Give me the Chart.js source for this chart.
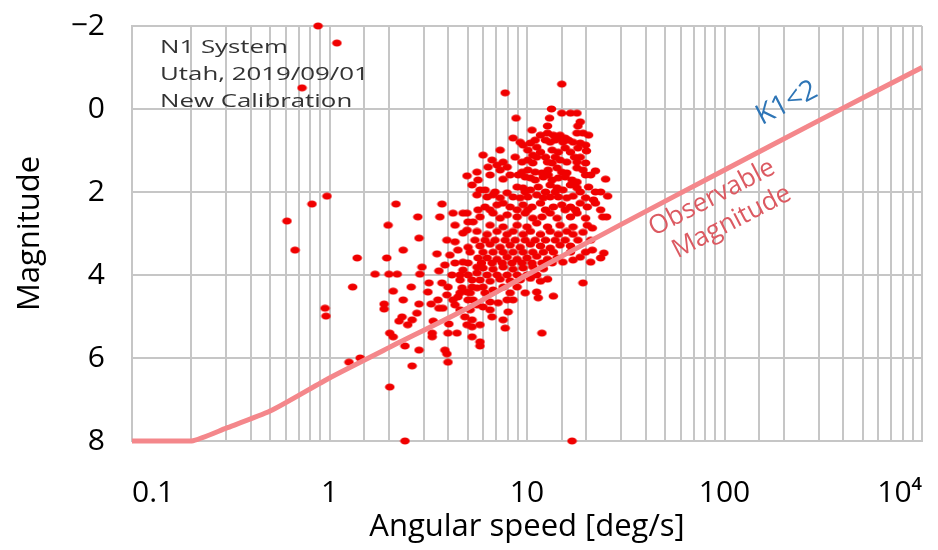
<!DOCTYPE html>
<html><head><meta charset="utf-8">
<script src="https://cdn.jsdelivr.net/npm/chart.js@4.4.1/dist/chart.umd.min.js"></script>
<style>html,body{margin:0;padding:0;background:#fff;} #wrap{width:938px;height:550px;position:relative;}</style>
</head><body><div id="wrap"><canvas id="c"></canvas></div>
<script>
// ---- axis ticks ----
const xTickValues = [0.1, 1, 10, 100, 1000];
const xTickLabels = ['0.1', '1', '10', '100', '10\u2074'];
const yTickValues = [-2, 0, 2, 4, 6, 8];

// ---- observable magnitude limit (K1<2) ----
const limitSpeed = [0.1, 0.2, 0.3, 0.5, 1, 2, 5, 10, 30, 100, 300, 1000];
const limitMag   = [8, 8, 7.69, 7.28, 6.48, 5.75, 4.8, 4.0, 2.78, 1.47, 0.28, -1.0];

// ---- observations [angular speed deg/s, magnitude] ----
const sparsePoints = [
 [0.875,-2.0],[1.09,-1.59],[0.726,-0.51],[0.815,2.29],[0.609,2.70],[0.669,3.40],[0.971,2.10],[0.949,4.80],[0.960,4.99],
 [1.255,6.10],[1.43,6.0],[2.41,8.0],[16.9,8.0],[1.31,4.29],[1.38,3.59],[1.95,3.59],[1.70,3.98],[2.0,3.98],[2.20,3.98],
 [2.17,2.29],[3.71,2.29],[1.98,2.80],[2.80,2.60],[3.62,2.60],[2.84,3.11],[2.36,3.40],[3.50,3.49],[2.94,3.81],[3.58,3.90],
 [2.87,3.98],[2.59,4.29],[2.10,4.39],[3.19,4.19],[3.15,4.41],[3.71,4.19],[3.98,4.29],[2.36,4.60],[2.84,4.70],[3.27,4.70],
 [3.54,4.60],[3.75,4.80],[1.89,4.70],[1.89,4.82],[2.77,4.92],[2.33,5.01],[2.25,5.11],[2.62,5.08],[2.49,5.20],[3.35,5.11],
 [4.02,5.18],[3.58,4.80],[4.22,4.60],[4.32,4.72],[2.02,5.40],[2.10,5.49],[2.41,5.71],[2.84,5.81],[3.31,5.40],[3.31,5.49],
 [3.84,5.81],[3.93,5.90],[3.98,6.10],[2.62,6.19],[2.02,6.70],[3.98,5.40],[4.42,5.40],[4.97,5.20],[5.27,5.25],[4.85,5.01],
 [5.27,5.08],[4.22,2.51],[4.74,2.51],[4.97,2.51],[4.32,2.80],[5.03,2.72],[5.33,2.72],[4.74,2.99],[4.97,2.92],[4.32,3.20],
 [4.47,3.40],[5.03,3.33],[4.32,3.71],[4.74,3.69],[4.74,3.88],[5.03,4.0],[5.27,4.12],[5.58,3.95],[4.69,4.31],[4.97,4.41],
 [5.27,4.29],[5.58,4.31],[4.47,4.53],[5.03,4.60],[5.33,4.60],[5.58,4.72],[5.65,3.59],[5.58,3.81],[4.97,1.61],[5.58,1.52],
 [5.65,1.71],[5.27,1.83],[5.78,1.95],[5.58,2.07],[3.93,3.16],[4.07,3.52],[3.84,3.76],[4.17,4.0],[3.93,4.48],[4.58,4.12]
];
const upperCore = [
 [15.0,-0.60],[7.75,-0.39],[13.3,0.0],[15.0,0.10],[16.6,0.10],[17.9,0.10],[8.80,0.22],[13.0,0.22],[12.7,0.41],[18.6,0.31],
 [18.1,0.41],[10.6,0.51],[11.7,0.63],[12.7,0.58],[13.6,0.63],[14.7,0.63],[15.6,0.70],[17.9,0.58],[19.2,0.58],[20.5,0.63],
 [8.50,0.70],[9.23,0.80],[9.55,0.87],[10.4,0.82],[11.2,0.92],[13.1,0.80],[14.4,0.70],[15.2,0.80],[17.1,0.80],[18.6,0.82],
 [19.8,0.87],[7.31,0.99],[5.99,1.11],[10.1,0.99],[10.7,1.11],[11.7,1.04],[13.4,0.99],[14.4,1.04],[15.6,0.94],[16.6,1.04],
 [18.1,0.94],[20.0,1.01],[6.65,1.23],[7.05,1.35],[7.57,1.28],[9.44,1.28],[10.1,1.23],[10.7,1.30],[12.7,1.28],[13.4,1.30],
 [14.7,1.23],[15.9,1.28],[17.9,1.28],[19.8,1.30],[6.35,1.40],[7.93,1.40],[7.31,1.47],[9.44,1.52],[10.1,1.47],[11.0,1.52],
 [11.9,1.54],[12.8,1.47],[14.2,1.42],[15.0,1.52],[15.9,1.54],[17.9,1.42],[19.2,1.47],[22.2,1.49],[7.57,1.69],[9.79,1.64],
 [10.4,1.66],[11.0,1.71],[12.1,1.64],[13.4,1.71],[14.4,1.66],[15.6,1.64],[16.9,1.71],[17.9,1.76],[25.0,1.69],[6.13,1.95],
 [8.91,1.88],[9.55,1.90],[10.4,1.95],[11.4,1.88],[13.1,1.83],[14.2,1.90],[15.2,1.95],[16.6,1.83],[17.9,1.90],[20.5,1.88],
 [23.6,2.0],[25.6,2.10],[6.28,2.12],[6.73,2.07],[7.31,2.14],[7.93,2.02],[8.50,2.12],[9.23,2.14],[10.1,2.12],[11.2,2.07],
 [12.1,2.14],[13.1,2.12],[14.4,2.12],[15.9,2.14],[17.1,2.10],[19.8,2.14],[21.7,2.19],[6.13,2.36],[7.05,2.31],[7.57,2.27],
 [8.21,2.36],[9.55,2.31],[10.6,2.36],[11.7,2.27],[13.6,2.36],[15.0,2.31],[16.6,2.36],[18.6,2.27],[20.2,2.36],[22.2,2.27],
 [24.2,2.60],[25.3,2.60],[5.78,2.60],[6.73,2.51],[7.31,2.63],[7.93,2.55],[8.91,2.60],[9.79,2.51],[10.7,2.63],[11.9,2.60],
 [13.1,2.51],[14.2,2.63],[16.6,2.60],[17.9,2.51],[19.8,2.63],[6.50,2.80],[7.57,2.84],[8.91,2.80],[10.0,2.84],[11.2,2.75],
 [12.7,2.84],[14.7,2.80],[17.1,2.84],[20.2,2.80],[21.4,2.87],
 [11.0,0.75],[12.4,0.75],[13.9,0.75],[16.2,0.75],[8.71,1.16],[11.2,1.16],[12.4,1.16],[13.9,1.16],[17.4,1.16],[18.6,1.16],
 [6.50,1.59],[8.21,1.59],[9.02,1.59],[12.8,1.59],[19.8,1.59],[21.0,1.59],[6.89,2.0],[9.79,2.0],[12.4,2.0],[13.9,2.0],
 [18.6,2.0],[22.2,2.0],[5.65,2.43],[6.50,2.43],[8.91,2.43],[10.1,2.43],[12.4,2.43],[15.6,2.43],[17.6,2.43],[23.6,2.43]
];
const lowerCore = [
 [5.58,2.95],[6.28,3.02],[7.05,2.95],[7.93,3.02],[8.50,2.95],[9.55,3.02],[10.4,2.95],[11.7,3.02],[13.1,2.95],[14.4,3.02],
 [15.9,2.95],[17.1,3.02],[19.2,2.97],[5.78,3.30],[6.50,3.26],[7.31,3.33],[8.21,3.28],[9.23,3.33],[10.4,3.26],[11.7,3.30],
 [13.1,3.35],[14.7,3.28],[16.6,3.30],[21.4,3.40],[24.5,3.47],[23.6,3.59],[21.0,3.69],[18.6,3.57],[17.1,3.64],[15.2,3.69],
 [6.28,3.59],[7.05,3.62],[7.93,3.57],[8.91,3.62],[10.0,3.59],[11.2,3.55],[12.7,3.62],[14.2,3.59],[5.99,3.83],[6.73,3.86],
 [7.57,3.81],[8.50,3.86],[9.55,3.83],[10.7,3.80],[12.1,3.85],[5.78,4.12],[6.50,4.15],[7.31,4.10],[8.21,4.14],[9.23,4.12],
 [10.4,4.08],[11.7,4.15],[12.7,4.10],[19.2,4.19],[8.91,4.29],[11.2,4.41],[11.4,4.55],[13.6,4.51],[5.99,4.29],[6.73,4.36],
 [7.57,4.29],[6.50,4.65],[7.14,4.67],[7.93,4.60],[8.50,4.60],[8.02,4.89],[6.65,5.01],[5.99,4.77],[7.57,5.08],[7.75,5.28],
 [5.78,5.20],[11.9,5.40],[5.78,5.61],[5.78,5.71],[5.27,5.49],
 [5.45,3.16],[6.13,3.16],[6.89,3.16],[7.75,3.16],[8.71,3.16],[9.79,3.16],[11.0,3.16],[12.4,3.16],[13.9,3.16],[15.6,3.16],
 [18.1,3.16],[21.0,3.16],[5.15,3.45],[5.99,3.45],[6.73,3.45],[7.57,3.45],[8.50,3.45],[9.55,3.45],[10.7,3.45],[12.1,3.45],
 [13.6,3.45],[16.6,3.45],[19.8,3.45],[5.03,3.71],[5.88,3.71],[6.65,3.71],[7.49,3.71],[8.40,3.71],[9.44,3.71],[10.6,3.71],
 [11.9,3.71],[13.4,3.71],[4.58,4.0],[6.28,4.0],[7.05,4.0],[7.93,4.0],[8.91,4.0],[10.0,4.0],[11.2,4.0],[4.58,4.43],
 [5.15,4.43],[6.13,4.43],[8.21,4.43],[9.79,4.43],[4.58,4.84],[5.15,4.84],[6.50,4.84]
];

// ---- text ----
const infoLines = ['N1 System', 'Utah, 2019/09/01', 'New Calibration'];
const limitLabel = ['Observable', 'Magnitude'];
const conditionLabel = 'K1<2';
const xTitle = 'Angular speed [deg/s]';
const yTitle = 'Magnitude';

const FONT = "'Open Sans', 'Liberation Sans', sans-serif";

// ellipse marker (source image is slightly stretched horizontally)
const dot = document.createElement('canvas');
dot.width = 11; dot.height = 8;
(function(){ const g = dot.getContext('2d'); g.fillStyle = 'rgb(240,0,0)'; g.beginPath(); g.ellipse(5.5,4,4.8,3.5,0,0,Math.PI*2); g.fill(); })();

const toXY = arr => arr.map(p => ({x: p[0], y: p[1]}));
const obs = toXY(sparsePoints).concat(toXY(upperCore), toXY(lowerCore));
const limit = limitSpeed.map((s, i) => ({x: s, y: limitMag[i]}));

const annot = {
  id: 'annot',
  afterDatasetsDraw(chart) {
    const {ctx, chartArea: a, scales: {x, y}} = chart;
    ctx.save();
    ctx.fillStyle = '#333';
    ctx.font = "19px " + FONT;
    ctx.textBaseline = 'alphabetic';
    ctx.textAlign = 'left';
    infoLines.forEach((t, i) => {
      ctx.save();
      ctx.translate(a.left + 28, a.top + 27 + i * 27);
      ctx.scale(1.36, 1);
      ctx.fillText(t, 0, 0);
      ctx.restore();
    });
    const ang = Math.atan2(y.getPixelForValue(limitMag[11]) - y.getPixelForValue(limitMag[9]),
                           x.getPixelForValue(limitSpeed[11]) - x.getPixelForValue(limitSpeed[9]));
    ctx.textAlign = 'center'; ctx.textBaseline = 'middle';
    ctx.save();
    ctx.translate(x.getPixelForValue(207), y.getPixelForValue(-0.14));
    ctx.rotate(ang);
    ctx.fillStyle = '#2e75b6';
    ctx.font = "28px " + FONT;
    ctx.fillText(conditionLabel, 0, 0);
    ctx.restore();
    const pos = [[86.5, 2.14], [109, 2.72]];
    limitLabel.forEach((t, i) => {
      ctx.save();
      ctx.translate(x.getPixelForValue(pos[i][0]), y.getPixelForValue(pos[i][1]));
      ctx.rotate(ang);
      ctx.fillStyle = '#dc5a62';
      ctx.font = "26px " + FONT;
      ctx.fillText(t, 0, 0);
      ctx.restore();
    });
    ctx.restore();
  }
};

new Chart(document.getElementById('c'), {
  type: 'scatter',
  data: {
    datasets: [
      { label: 'Observable magnitude', data: limit, showLine: true, borderColor: '#f4878b', borderWidth: 5,
        pointRadius: 0, pointHoverRadius: 0, fill: false, tension: 0.2, order: 0, clip: false },
      { label: 'Observations', data: obs, pointStyle: dot, pointRadius: 5, backgroundColor: 'rgb(240,0,0)',
        borderWidth: 0, order: 1, clip: false }
    ]
  },
  options: {
    responsive: true, maintainAspectRatio: false, animation: false,
    layout: { padding: { left: 0, right: 16, top: 26, bottom: 0 } },
    plugins: { legend: { display: false }, tooltip: { enabled: false } },
    scales: {
      x: {
        type: 'logarithmic', min: 0.1, max: 1000,
        grid: { color: '#c6c6c6', lineWidth: 2, drawTicks: false },
        border: { color: '#c6c6c6', width: 2 },
        ticks: {
          autoSkip: false, maxRotation: 0, align: 'inner', padding: 34, color: '#000',
          font: { family: FONT, size: 30 },
          callback: v => { const i = xTickValues.findIndex(t => Math.abs(Math.log10(v) - Math.log10(t)) < 1e-6); return i < 0 ? '' : xTickLabels[i]; }
        },
        title: { display: true, text: xTitle, color: '#000', font: { family: FONT, size: 31 }, padding: { top: 0, bottom: 4 } },
        afterFit: s => { s.height = 109; s.paddingLeft = 0; s.paddingRight = 0; }
      },
      y: {
        type: 'linear', min: -2, max: 8, reverse: true,
        grid: { color: '#c6c6c6', lineWidth: 2, drawTicks: false },
        border: { color: '#c6c6c6', width: 2 },
        afterBuildTicks: s => { s.ticks = yTickValues.map(v => ({ value: v })); },
        ticks: {
          padding: 27, color: '#000', font: { family: FONT, size: 30 },
          callback: v => v < 0 ? '\u2212' + Math.abs(v) : String(v)
        },
        title: { display: true, text: yTitle, color: '#000', font: { family: FONT, size: 31 }, padding: { top: 12, bottom: 0 } },
        afterFit: s => { s.width = 132; s.paddingTop = 0; s.paddingBottom = 0; }
      }
    }
  },
  plugins: [annot]
});
</script>
</body></html>
